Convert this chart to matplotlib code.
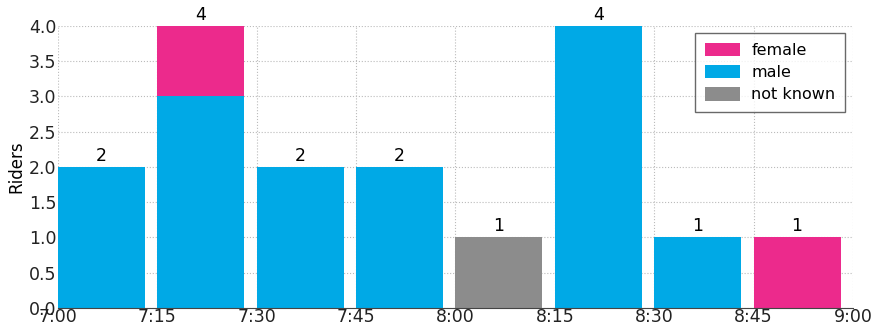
import matplotlib.pyplot as plt
import numpy as np

times = ["7:00", "7:15", "7:30", "7:45", "8:00", "8:15", "8:30", "8:45", "9:00"]
male = [2, 3, 2, 2, 0, 4, 1, 0]
female = [0, 1, 0, 0, 0, 0, 0, 1]
not_known = [0, 0, 0, 0, 1, 0, 0, 0]

c_female = "#ec2a8c"
c_male = "#00a9e6"
c_nk = "#8c8c8c"

plt.rcParams["font.size"] = 12.5
fig = plt.figure(figsize=(8.78, 3.31), dpi=100)
ax = fig.add_axes([0.066, 0.0695, 0.9055, 0.852])

x = np.arange(len(male))
w = 0.875
male = np.array(male)
female = np.array(female)
not_known = np.array(not_known)

ax.bar(x, male, w, align="edge", color=c_male, label="male", zorder=2)
ax.bar(x, female, w, bottom=male, align="edge", color=c_female, label="female", zorder=2)
ax.bar(x, not_known, w, bottom=male + female, align="edge", color=c_nk, label="not known", zorder=2)

total = male + female + not_known
for xi, t in zip(x, total):
    ax.text(xi + w / 2, t + 0.03, str(t), ha="center", va="bottom", fontsize=12.5)

ax.set_xlim(0, 8)
ax.set_ylim(0, 4)
ax.set_xticks(np.arange(len(times)))
ax.set_xticklabels(times)
ax.set_yticks(np.arange(0, 4.01, 0.5))
ax.set_yticklabels(["%.1f" % v for v in np.arange(0, 4.01, 0.5)])
ax.set_ylabel("Riders", fontsize=12, labelpad=3)
ax.grid(True, linestyle=":", color="#bbbbbb", linewidth=0.8, zorder=0)
for s in ["top", "right", "left"]:
    ax.spines[s].set_visible(False)
ax.spines["bottom"].set_color("#444444")
ax.tick_params(axis="both", length=0, pad=1, colors="#222222")
ax.tick_params(axis="x", pad=0)

h, l = ax.get_legend_handles_labels()
order = [1, 0, 2]
leg = ax.legend([h[i] for i in order], [l[i] for i in order], loc="upper right",
                bbox_to_anchor=(0.99, 0.975), borderaxespad=0, fancybox=False,
                edgecolor="#444444", fontsize=11.5, handlelength=2.2, handleheight=0.9,
                labelspacing=0.45, borderpad=0.6, handletextpad=0.7)
leg.get_frame().set_linewidth(1.0)

plt.savefig("out.png", dpi=100)
